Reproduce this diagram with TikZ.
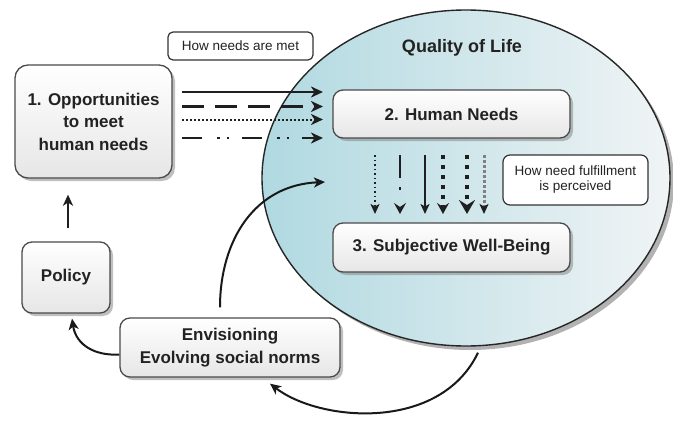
\documentclass[tikz,border=0pt]{standalone}
\usepackage{fontspec}
\setmainfont{Liberation Sans}
\usetikzlibrary{arrows.meta,shapes.geometric,shadows,calc}
\definecolor{edge}{HTML}{4A4A4A}
\definecolor{txt}{HTML}{222222}
\definecolor{tealL}{HTML}{B0D9E1}
\definecolor{tealR}{HTML}{F0F4F5}
\definecolor{boxfill}{HTML}{E6E6E6}
\begin{document}
\begin{tikzpicture}[x=1pt,y=-1pt,
  box/.style={draw=edge, line width=1.3pt, rounded corners=10pt, top color=white, bottom color=boxfill,
    align=center, font=\bfseries\fontsize{17}{22.5}\selectfont, text=txt,
    drop shadow={shadow xshift=3pt, shadow yshift=-3pt, opacity=.5, fill=gray}, inner sep=0pt},
  lbl/.style={draw=black!80, line width=1.2pt, rounded corners=5pt, fill=white, align=center,
    font=\fontsize{13.5}{15}\selectfont, text=txt, inner sep=0pt},
  harr/.style={line width=2.3pt, black!88, -{Stealth[length=12pt,width=11pt,inset=3.5pt]}},
  varr/.style={black!88, -{Stealth[length=10pt,width=9pt,inset=2.5pt]}},
  curve/.style={line width=2pt, black!90, -{Stealth[length=11pt,width=10pt,inset=3pt]}},
]
\useasboundingbox (0,0) rectangle (673,423);
\fill[white] (0,0) rectangle (673,423);

% big ellipse
\node[ellipse, minimum width=408pt, minimum height=336pt, inner sep=0pt, draw=black!85, line width=1.4pt,
  left color=tealL, right color=tealR,
  drop shadow={shadow xshift=4pt, shadow yshift=-4pt, opacity=.6, fill=gray}] (qol) at (466,178) {};
\node[font=\bfseries\fontsize{18}{20}\selectfont, text=txt] (qt) at (462,48) {Quality of Life};

% boxes
\node[box, rounded corners=13pt, minimum width=157pt, minimum height=113pt] (b1) at (93.5,121.5)
  {1. Opportunities\\to meet\\human needs};
\node[box, minimum width=88pt, minimum height=71pt] (policy) at (66,277.5) {Policy};
\node[box, minimum width=220pt, minimum height=59pt] (env) at (230,347.5)
  {Envisioning\\Evolving social norms};
\node[box, minimum width=237pt, minimum height=48pt] (b2) at (451.5,114) {2. Human Needs};
\node[box, minimum width=237pt, minimum height=49pt] (b3) at (451.5,247.5) {3. Subjective Well-Being};

\node[lbl, minimum width=145pt, minimum height=28pt] (l1) at (240.5,46) {How needs are met};
\node[lbl, minimum width=145pt, minimum height=50pt, rounded corners=7pt] (l2) at (575.5,180)
  {How need fulfillment\\is perceived};

% horizontal arrows
\foreach \n/\y in {1/92,2/106.5,3/119.5,4/138}{
  \coordinate (h\n s) at (182,\y);
  \coordinate (h\n e) at (323,\y);
}
\draw[harr] (h1s) -- (h1e);
\draw[harr, dash pattern=on 22pt off 11pt] (h2s) -- (h2e);
\draw[harr, line width=2pt, dash pattern=on 1.6pt off 2.4pt] (h3s) -- (h3e);
\draw[harr, dash pattern=on 20pt off 15pt on 2.5pt off 7pt on 2.5pt off 13pt] (h4s) -- (h4e);

% vertical arrows
\foreach \n/\x in {1/375,2/400,3/425,4/443,5/467,6/484}{
  \coordinate (v\n s) at (\x,155);
  \coordinate (v\n e) at (\x,214);
}
\draw[varr, line width=1.7pt, dash pattern=on 1.7pt off 2.8pt] (v1s) -- (v1e);
\draw[varr, line width=2.5pt, dash pattern=on 23pt off 9pt on 2.5pt off 20pt,
  -{Stealth[length=11pt,width=12pt,inset=4pt]}] (v2s) -- (v2e);
\draw[varr, line width=2.2pt] (v3s) -- (v3e);
\draw[varr, line width=3.5pt, dash pattern=on 3.5pt off 6.5pt,
  -{Stealth[length=11pt,width=12pt,inset=4pt]}] (v4s) -- (v4e);
\draw[varr, line width=4pt, dash pattern=on 4pt off 6pt,
  -{Stealth[length=14pt,width=16pt,inset=5pt]}] (v5s) -- (v5e);
\draw[varr, line width=3pt, draw=gray, dash pattern=on 3pt off 2pt,
  -{Stealth[length=10pt,width=9pt,inset=2.5pt,color=black!88,fill=black!88]}] (v6s) -- (v6e);

% cycle arrows
\draw[line width=2.3pt, black!88, -{Stealth[length=11pt,width=10pt,inset=3pt]}]
  ($(policy.north)+(2,-13)$) -- ($(b1.south)+(-25.5,16)$);
\draw[curve] ($(env.west)+(0,7)$) .. controls (95,356) and (76,345) .. ($(policy.south)+(6,5)$);
\coordinate (c2e) at (325,182);
\draw[curve] ($(env.north)+(-10,-10)$) .. controls (220,240) and (255,185) .. (c2e);
\draw[curve] ($(qol.south)+(12,6)$) .. controls (440,432) and (320,422) .. ($(env.south)+(40,6)$);
\end{tikzpicture}
\end{document}
